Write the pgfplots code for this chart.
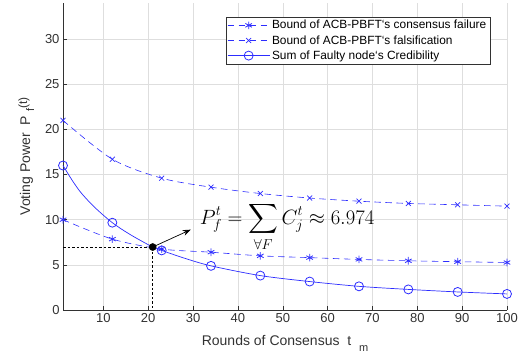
\documentclass[border=0pt]{standalone}
\usepackage{amsmath}
\usepackage{fontspec}
\setmainfont{Liberation Sans}
\usepackage{pgfplots}
\usepackage{pgfplotstable}
\pgfplotsset{compat=1.18}
\usetikzlibrary{arrows.meta}

\definecolor{lineblue}{RGB}{45,45,255}
\definecolor{axgray}{RGB}{50,50,50}

% legend sample: a line with one mark in its middle
\pgfplotsset{
  midmark legend/.style={
    legend image code/.code={%
      \draw[##1, mark indices={2}]
        plot coordinates {(0bp,0bp) (21bp,0bp) (42bp,0bp)};}},
}

% Sum of the faulty nodes' credibility (solid curve)
\pgfplotstableread{
t   v
1   16.0
3   14.4
5   13.0
8   11.4
12  9.67
16  8.35
21  6.974
23  6.6
28  5.75
34  4.89
45  3.81
56  3.15
67  2.62
78  2.28
89  2.00
100 1.78
}\credibility

% Bound of consensus failure
\pgfplotstableread{
t   v
1   10.0
12  7.85
23  6.75
34  6.4
45  6.0
56  5.8
67  5.6
78  5.45
89  5.35
100 5.26
}\failure

% Bound of falsification
\pgfplotstableread{
t   v
1   21.0
12  16.7
23  14.6
34  13.6
45  12.9
56  12.4
67  12.05
78  11.8
89  11.65
100 11.5
}\falsification

\begin{document}
\begin{tikzpicture}
\begin{axis}[
  scale only axis,
  width=444bp, height=307bp,
  xmin=1, xmax=100, ymin=0, ymax=34,
  xtick={10,20,...,100}, ytick={0,5,...,30},
  axis lines=left,
  axis line style={-, axgray, line width=0.5bp},
  tick style={axgray, line width=0.5bp},
  tick align=inside, major tick length=4bp,
  grid=major, grid style={black!13, line width=0.5bp},
  /pgf/number format/assume math mode=true,
  tick label style={font=\fontsize{13bp}{15bp}\selectfont, text=axgray},
  label style={font=\fontsize{14bp}{16bp}\selectfont, text=axgray},
  xlabel={Rounds of Consensus\ \ t\ \ \raisebox{-6bp}{\fontsize{11bp}{12bp}\selectfont m}},
  ylabel={Voting Power\ \ P\ \raisebox{-4bp}{\fontsize{11bp}{12bp}\selectfont f}\raisebox{3bp}{\fontsize{12bp}{12bp}\selectfont (t)}},
  xlabel style={at={(axis description cs:0.5,-0.117)}, anchor=base},
  ylabel style={at={(axis description cs:-0.0743,0.5)}, anchor=base},
  legend style={
    at={(rel axis cs:0.962,0.956)}, anchor=north east,
    font=\fontsize{11.9bp}{13bp}\selectfont,
    draw=axgray, line width=0.6bp, fill=white,
    inner sep=1.5bp, row sep=1bp,
    nodes={inner sep=2bp},
  },
  legend cell align=left,
  midmark legend,
  clip=false,
]
\addplot[lineblue, line width=0.6bp, dash pattern=on 6.5bp off 4.5bp, smooth,
  mark=asterisk, mark size=3.8bp, mark options={solid, line width=0.8bp}]
  table[x=t, y=v] {\failure};
\addlegendentry{Bound of ACB-PBFT`s consensus failure}

\addplot[lineblue, line width=0.6bp, dash pattern=on 6.5bp off 4.5bp, smooth,
  mark=x, mark size=3.5bp, mark options={solid, line width=0.7bp}]
  table[x=t, y=v] {\falsification};
\addlegendentry{Bound of ACB-PBFT`s falsification}

\addplot[lineblue, line width=0.7bp, smooth,
  mark=o, mark size=4.5bp, mark options={solid, line width=0.8bp},
  mark indices={1,5,8,10,11,12,13,14,15,16}]
  table[x=t, y=v] {\credibility};
\addlegendentry{Sum of Faulty node`s Credibility}

% guide lines to the crossing point
\addplot[black, line width=0.7bp, dash pattern=on 2.5bp off 2bp, forget plot]
  coordinates {(1,6.974) (21,6.974) (21,0)};
\addplot[only marks, mark=*, mark size=3.6bp, black, forget plot]
  coordinates {(21,6.974)};

\draw[-{Stealth[length=8bp, width=6bp]}, black, line width=0.7bp]
  (axis cs:21,6.974) -- (axis cs:29.5,8.9);
\node[anchor=west, inner sep=0pt, font=\fontsize{19.5bp}{21bp}\selectfont]
  at (axis cs:31.5,9.2)
  {$\displaystyle P_f^t = \sum_{\forall F} C_j^t \approx 6.974$};
\end{axis}
\pgfresetboundingbox
\path (-63bp,-47bp) rectangle (461bp,310bp);
\end{tikzpicture}
\end{document}
